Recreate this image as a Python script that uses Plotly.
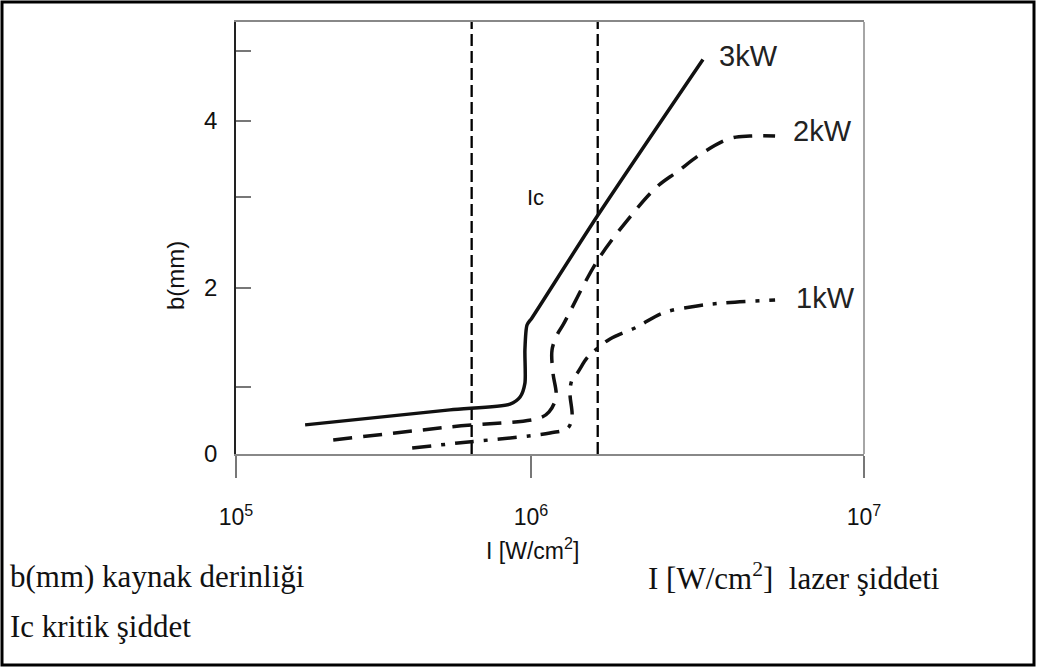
import plotly.graph_objects as go

# ---- data ----
x_3kw = [1.66e5, 4.80e5, 7.46e5, 8.03e5, 8.32e5, 8.32e5, 8.45e5, 8.76e5, 1.41e6, 3.07e6]
y_3kw = [0.35, 0.53, 0.60, 0.685, 0.85, 1.25, 1.55, 1.635, 2.85, 4.74]

x_2kw = [2.04e5, 4.80e5, 9.29e5, 9.93e5, 1.045e6, 1.022e6, 1.015e6, 1.053e6, 1.10e6,
         1.42e6, 1.80e6, 2.19e6, 2.54e6, 3.07e6, 3.74e6, 4.33e6, 5.21e6]
y_2kw = [0.168, 0.325, 0.433, 0.505, 0.685, 0.974, 1.25, 1.43, 1.55,
         2.33, 2.85, 3.21, 3.39, 3.62, 3.79, 3.82, 3.82]

x_1kw = [3.64e5, 5.09e5, 1.0e6, 1.14e6, 1.175e6, 1.158e6, 1.175e6, 1.228e6, 1.312e6,
         1.42e6, 1.553e6, 1.893e6, 2.29e6, 2.94e6, 3.56e6, 5.21e6]
y_1kw = [0.072, 0.132, 0.252, 0.3125, 0.445, 0.733, 0.889, 0.986, 1.154,
         1.274, 1.382, 1.526, 1.695, 1.779, 1.815, 1.851]

ic_bounds = [5.63e5, 1.419e6]
y_span = [0, 5.19]

x_tick_vals = [1e5, 8.7e5, 1e7]
x_tick_text = ["10<sup>5</sup>", "10<sup>6</sup>", "10<sup>7</sup>"]
y_tick_vals = [0, 0.81, 2, 3.09, 4, 4.84]
y_tick_text = ["0", "", "2", "", "4", ""]

series_labels = ["3kW", "2kW", "1kW"]

# ---- layout geometry ----
W, H = 1037, 668
L, R, T, B = 236, 173, 22, 214
PW, PH = W - L - R, H - T - B


def px(xp):
    return (xp - L) / PW


def py(yp):
    return (H - B - yp) / PH


SANS = "Arial, Liberation Sans, sans-serif"

fig = go.Figure()

# critical intensity boundaries
for xv in ic_bounds:
    fig.add_trace(go.Scatter(x=[xv, xv], y=y_span, mode="lines",
                             line=dict(color="black", width=2.3, dash="12px,5px"),
                             showlegend=False, hoverinfo="skip"))

fig.add_trace(go.Scatter(x=x_3kw, y=y_3kw, mode="lines", name=series_labels[0],
                         line=dict(color="#111", width=3.5, shape="spline", smoothing=0.7),
                         showlegend=False))
fig.add_trace(go.Scatter(x=x_2kw, y=y_2kw, mode="lines", name=series_labels[1],
                         line=dict(color="#111", width=3.5, dash="19px,11px",
                                   shape="spline", smoothing=1.0),
                         showlegend=False))
fig.add_trace(go.Scatter(x=x_1kw, y=y_1kw, mode="lines", name=series_labels[2],
                         line=dict(color="#111", width=3.5, dash="19px,10px,4px,10px",
                                   shape="spline", smoothing=1.0),
                         showlegend=False))

ann = []
lab_font = dict(family=SANS, size=29, color="#222")
ann.append(dict(x=px(748), y=py(56), text=series_labels[0], font=lab_font))
ann.append(dict(x=px(822), y=py(131), text=series_labels[1], font=lab_font))
ann.append(dict(x=px(825), y=py(298), text=series_labels[2], font=lab_font))
ann.append(dict(x=px(535), y=py(197), text="Ic", font=dict(family=SANS, size=22, color="#111")))
ann.append(dict(x=px(175), y=py(276), text="b(mm)", textangle=-90,
                font=dict(family=SANS, size=24, color="#111")))
ann.append(dict(x=px(532), y=py(549), text="I [W/cm<sup>2</sup>]",
                font=dict(family=SANS, size=23, color="#111")))
serif = dict(family="Liberation Serif, Times New Roman, serif", size=31, color="#111")
ann.append(dict(x=px(8), y=py(576), text="b(mm) kaynak derinliği", xanchor="left", font=serif))
ann.append(dict(x=px(646), y=py(576), text="I [W/cm<sup>2</sup>]\u00a0\u00a0lazer şiddeti",
                xanchor="left", font=serif))
ann.append(dict(x=px(8), y=py(626), text="Ic kritik şiddet", xanchor="left", font=serif))
for a in ann:
    a.update(xref="paper", yref="paper", showarrow=False)
    a.setdefault("xanchor", "center")
    a.setdefault("yanchor", "middle")

shapes = [
    # outer frame
    dict(type="rect", xref="paper", yref="paper", x0=px(2), x1=px(1034), y0=py(665), y1=py(2),
         line=dict(color="black", width=3), fillcolor="rgba(0,0,0,0)"),
    # right border of plot box
    dict(type="line", xref="paper", yref="paper", x0=1, x1=1, y0=0, y1=1,
         line=dict(color="#888", width=1.5)),
]

fig.update_layout(
    width=W, height=H, autosize=False,
    margin=dict(l=L, r=R, t=T, b=B, pad=0),
    paper_bgcolor="white", plot_bgcolor="white",
    annotations=ann, shapes=shapes,
    xaxis=dict(type="log", range=[5, 7], tickvals=x_tick_vals, ticktext=x_tick_text,
               ticks="outside", ticklen=22, tickwidth=1.5, tickcolor="#777",
               showline=True, linecolor="#888", linewidth=1.5, mirror=True,
               showgrid=False, zeroline=False, ticklabelstandoff=20,
               tickfont=dict(family=SANS, size=23, color="#111")),
    yaxis=dict(range=y_span, tickvals=y_tick_vals, ticktext=y_tick_text,
               ticks="inside", ticklen=15, tickwidth=1.5, tickcolor="#777",
               showline=True, linecolor="#222", linewidth=1.5, mirror=False,
               showgrid=False, zeroline=False, ticklabelstandoff=12,
               tickfont=dict(family=SANS, size=24, color="#111")),
)

fig.write_html("out.html")
